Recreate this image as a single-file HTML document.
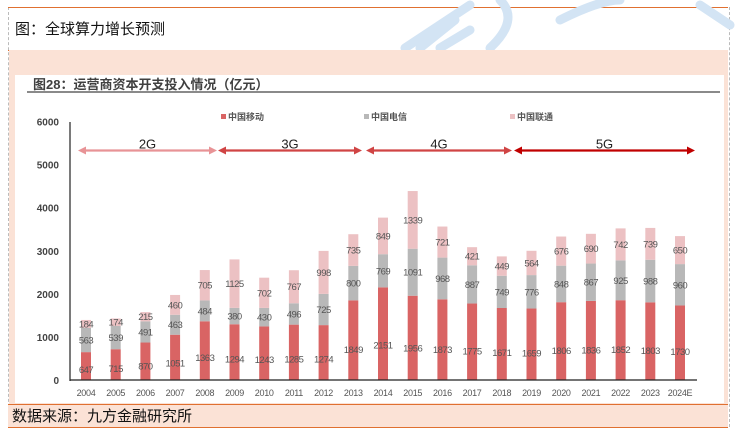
<!DOCTYPE html>
<html><head><meta charset="utf-8"><style>
body{margin:0;width:736px;height:439px;background:#fff;overflow:hidden;font-family:"Liberation Sans","Noto Sans CJK SC",sans-serif;position:relative}
.abs{position:absolute}
</style></head><body>
<div class="abs" style="left:8px;top:7px;width:720px;height:420px;border-left:1px dashed #bbb;border-right:1px dashed #bbb;"></div>
<div class="abs" style="left:8px;top:7px;width:720px;height:42px;border-top:1px solid #e07030;border-bottom:1px solid #e07030;"></div>
<svg class="abs" style="left:0;top:0" width="736" height="50">
<g stroke="#d3e4f4" stroke-width="9" fill="none" stroke-linecap="round">
<path d="M405 48 L470 5"/><path d="M420 48 L455 20"/><path d="M440 48 L470 30"/>
<path d="M490 48 Q520 20 500 0"/><path d="M560 20 Q600 0 620 0"/><path d="M700 5 L730 25"/>
</g></svg>
<div class="abs" style="left:15px;top:18px;font-size:15px;color:#111;">图：全球算力增长预测</div>
<div class="abs" style="left:9px;top:50px;width:719px;height:354px;background:#fbe2d6;"></div>
<div class="abs" style="left:15px;top:75px;width:709px;height:328px;background:#fff;"></div>
<div class="abs" style="left:8px;top:404px;width:720px;height:22px;background:#fbe2d6;border-top:1px solid #e07030;border-bottom:1px solid #e07030;"></div>
<div class="abs" style="left:12px;top:405px;font-size:15px;color:#111;">数据来源：九方金融研究所</div>
<svg class="abs" id="chart" style="left:0;top:0" width="736" height="439"></svg>
<script>
const years=["2004","2005","2006","2007","2008","2009","2010","2011","2012","2013","2014","2015","2016","2017","2018","2019","2020","2021","2022","2023","2024E"];
const mobile=[647,715,870,1051,1363,1294,1243,1285,1274,1849,2151,1956,1873,1775,1671,1659,1806,1836,1852,1803,1730];
const telecom=[563,539,491,463,484,380,430,496,725,800,769,1091,968,887,749,776,848,867,925,988,960];
const unicom=[184,174,215,460,705,1125,702,767,998,735,849,1339,721,421,449,564,676,690,742,739,650];
const yTicks=[0,1000,2000,3000,4000,5000,6000];
const eras=["2G","3G","4G","5G"];
const NS="http://www.w3.org/2000/svg";
const svg=document.getElementById('chart');
function el(t,a,txt){const e=document.createElementNS(NS,t);for(const k in a)e.setAttribute(k,a[k]);if(txt!==undefined)e.textContent=txt;svg.appendChild(e);return e;}
const y0=380,yTop=121.5,vMax=6000;
const y=v=>y0-(v/vMax)*(y0-yTop);
const x0=86,step=29.7;
const x=i=>x0+i*step;
const bw=10;
// title
let t=el('text',{x:33,y:89,'font-size':13,'font-weight':'bold',fill:'#404040'},'图28：运营商资本开支投入情况（亿元）');

let l=el('line',{x1:27,x2:720,y1:92,y2:92,stroke:'#444','stroke-width':1.2});

// legend
const legNames=["中国移动","中国电信","中国联通"],legCols=["#d96464","#b8b8b8","#ecc1c3"],legX=[221,364,510];
legNames.forEach((n,i)=>{
 const r=el('rect',{x:legX[i],y:114,width:5,height:5,fill:legCols[i]});
 
 const tx=el('text',{x:legX[i]+7,y:120,'font-size':9,'font-weight':'bold',fill:'#555'},n);
 
});
// y axis
yTicks.forEach(v=>{
 const tx=el('text',{x:59,y:y(v)+4,'font-size':10,'font-weight':'bold','text-anchor':'end',fill:'#444'},String(v));
 
});
// bars
years.forEach((yr,i)=>{
 const cx=x(i);
 const segs=[[0,mobile[i],legCols[0]],[mobile[i],mobile[i]+telecom[i],legCols[1]],[mobile[i]+telecom[i],mobile[i]+telecom[i]+unicom[i],legCols[2]]];
 const vals=[mobile[i],telecom[i],unicom[i]];
 segs.forEach((s,k)=>{
  const r=el('rect',{x:cx-bw/2,y:y(s[1]),width:bw,height:y(s[0])-y(s[1]),fill:s[2]});
  
  
 });
 const ly=[y(mobile[i]*0.38),y(mobile[i]+telecom[i]/2),y(mobile[i]+telecom[i]+unicom[i]/2)];
 vals.forEach((v,k)=>{
  const tx=el('text',{x:cx,y:ly[k]+3.5,'font-size':9.5,'text-anchor':'middle',fill:'#555','letter-spacing':'-0.5'},String(v));
  
 });
 const xt=el('text',{x:cx,y:396,'font-size':9,'text-anchor':'middle',fill:'#555','letter-spacing':'-0.3'},yr);
 
});
let ax=el('line',{x1:70,x2:70,y1:122,y2:381,stroke:'#333','stroke-width':1.3});

let bx=el('line',{x1:70,x2:697,y1:380,y2:380,stroke:'#222','stroke-width':1.3});

// era arrows
const eraX=[[78,217],[218,362],[366,512],[514,695]],eraCol=["#e89396","#d04444","#d04444","#c00000"];
eras.forEach((g,i)=>{
 const [a,b]=eraX[i],c=eraCol[i],ay=150.5;
 const ln=el('line',{x1:a+4,x2:b-4,y1:ay,y2:ay,stroke:c,'stroke-width':2.2});
 
 const p1=el('polygon',{points:`${a},${ay} ${a+8},${ay-4} ${a+8},${ay+4}`,fill:c});
 
 const p2=el('polygon',{points:`${b},${ay} ${b-8},${ay-4} ${b-8},${ay+4}`,fill:c});
 
 const tx=el('text',{x:(a+b)/2,y:ay-2,'font-size':13,'text-anchor':'middle',fill:'#222'},g);
 
});
</script>
</body></html>
